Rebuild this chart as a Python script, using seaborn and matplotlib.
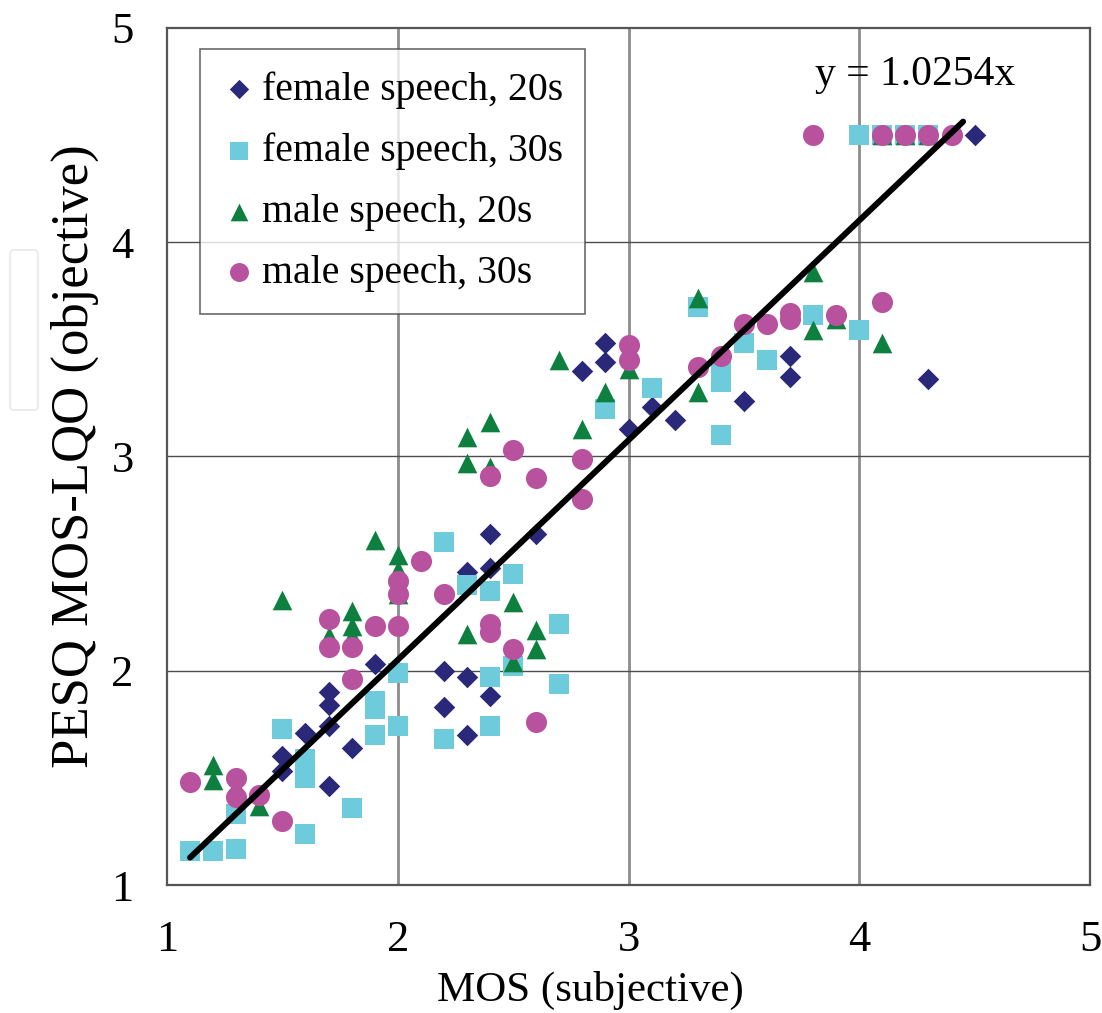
import numpy as np
import pandas as pd
import matplotlib
matplotlib.use("Agg")
import matplotlib.pyplot as plt
from matplotlib.patches import FancyBboxPatch
import seaborn as sns

# ---------------- data ----------------
f20_x = [1.5, 1.5, 1.6, 1.7, 1.7, 1.7, 1.7, 1.8, 1.9, 2.1, 2.2, 2.2, 2.3, 2.3, 2.3,
         2.4, 2.4, 2.4, 2.6, 2.8, 2.9, 2.9, 3.0, 3.1, 3.2, 3.5, 3.7, 3.7, 4.3, 4.5]
f20_y = [1.60, 1.53, 1.71, 1.90, 1.84, 1.74, 1.46, 1.64, 2.03, 2.51, 2.00, 1.83, 1.97, 1.70, 2.46,
         2.64, 2.48, 1.88, 2.64, 3.40, 3.53, 3.44, 3.13, 3.23, 3.17, 3.26, 3.47, 3.37, 3.36, 4.50]

f30_x = [1.1, 1.2, 1.3, 1.3, 1.5, 1.6, 1.6, 1.6, 1.6, 1.8, 1.9, 1.9, 1.9, 2.0, 2.0,
         2.2, 2.2, 2.3, 2.4, 2.4, 2.4, 2.5, 2.5, 2.7, 2.7, 2.9, 3.1, 3.3, 3.4, 3.4,
         3.4, 3.4, 3.5, 3.6, 3.8, 4.0, 4.0, 4.1, 4.2, 4.3]
f30_y = [1.16, 1.16, 1.17, 1.33, 1.73, 1.24, 1.50, 1.55, 1.59, 1.36, 1.70, 1.82, 1.86, 1.74, 1.99,
         1.68, 2.60, 2.40, 2.37, 1.97, 1.74, 2.45, 2.02, 2.22, 1.94, 3.22, 3.32, 3.70, 3.35, 3.38,
         3.42, 3.10, 3.53, 3.45, 3.66, 3.59, 4.50, 4.50, 4.50, 4.50]

m20_x = [1.2, 1.2, 1.3, 1.4, 1.5, 1.7, 1.8, 1.8, 1.8, 1.9, 2.0, 2.0, 2.0, 2.3, 2.3,
         2.3, 2.4, 2.4, 2.5, 2.5, 2.6, 2.6, 2.7, 2.8, 2.9, 3.0, 3.3, 3.3, 3.8, 3.8,
         3.9, 4.1, 4.1, 4.2, 4.3]
m20_y = [1.56, 1.49, 1.46, 1.37, 2.33, 2.16, 2.28, 2.21, 2.16, 2.61, 2.54, 2.47, 2.36, 3.09, 2.97,
         2.17, 3.16, 2.95, 2.32, 2.04, 2.19, 2.10, 3.45, 3.13, 3.30, 3.41, 3.74, 3.30, 3.86, 3.59,
         3.64, 3.53, 4.50, 4.50, 4.50]

m30_x = [1.1, 1.3, 1.3, 1.4, 1.5, 1.7, 1.7, 1.8, 1.8, 1.9, 2.0, 2.0, 2.0, 2.1, 2.2,
         2.4, 2.4, 2.4, 2.5, 2.5, 2.6, 2.6, 2.8, 2.8, 3.0, 3.0, 3.3, 3.4, 3.5, 3.6,
         3.7, 3.7, 3.9, 4.1, 3.8, 4.1, 4.2, 4.3, 4.4]
m30_y = [1.48, 1.50, 1.41, 1.42, 1.30, 2.24, 2.11, 2.11, 1.96, 2.21, 2.21, 2.42, 2.36, 2.51, 2.36,
         2.91, 2.22, 2.18, 3.03, 2.10, 2.90, 1.76, 2.99, 2.80, 3.52, 3.45, 3.42, 3.47, 3.62, 3.62,
         3.67, 3.64, 3.66, 3.72, 4.50, 4.50, 4.50, 4.50, 4.50]

series_names = ["female speech, 20s", "female speech, 30s", "male speech, 20s", "male speech, 30s"]
series_colors = ["#2a2878", "#6dcbdb", "#0d7f3f", "#b8519e"]
series_markers = ["D", "s", "^", "o"]
series_sizes = [120, 190, 200, 230]

slope = 1.0254
trend_x = [1.1, 4.45]
x_ticks = [1, 2, 3, 4, 5]
y_ticks = [1, 2, 3, 4, 5]
x_label = "MOS (subjective)"
y_label = "PESQ MOS-LQO (objective)"
eq_label = "y = 1.0254x"

# ---------------- plot ----------------
sns.set_theme(style="white")
plt.rcParams["font.family"] = ["Liberation Serif", "DejaVu Serif"]
plt.rcParams["text.color"] = "black"
plt.rcParams["axes.labelcolor"] = "black"
plt.rcParams["xtick.color"] = "black"
plt.rcParams["ytick.color"] = "black"

fig = plt.figure(figsize=(11.02, 10.13), dpi=100)
ax = fig.add_axes([167 / 1102, 1 - 885 / 1013, 923 / 1102, 857 / 1013])

data = [(f20_x, f20_y), (f30_x, f30_y), (m20_x, m20_y), (m30_x, m30_y)]
for (xs, ys), name, col, mk, sz in zip(data, series_names, series_colors, series_markers, series_sizes):
    df = pd.DataFrame({"x": xs, "y": ys})
    sns.scatterplot(data=df, x="x", y="y", ax=ax, color=col, marker=mk, s=sz,
                    linewidth=0, label=name, zorder=3)

tx = np.array(trend_x)
line_df = pd.DataFrame({"x": tx, "y": slope * tx})
sns.lineplot(data=line_df, x="x", y="y", ax=ax, color="black", linewidth=4.3,
             solid_capstyle="round", zorder=4, legend=False)

ax.set_xlim(1, 5)
ax.set_ylim(1, 5)
ax.set_xticks(x_ticks)
ax.set_yticks(y_ticks)
ax.set_xticklabels([str(t) for t in x_ticks], fontsize=32, color="black")
ax.set_yticklabels([str(t) for t in y_ticks], fontsize=32, color="black")
ax.tick_params(axis="x", length=0, pad=25)
ax.tick_params(axis="y", length=0, pad=24)

for v in x_ticks[1:-1]:
    ax.axvline(v, color="#8c8c8c", linewidth=2.0, zorder=1)
for v in y_ticks[1:-1]:
    ax.axhline(v, color="#4d4d4d", linewidth=1.0, zorder=1)

for s in ax.spines.values():
    s.set_color("#555555")
    s.set_linewidth(1.6)

ax.set_xlabel(x_label, fontsize=31, color="black")
ax.set_ylabel(y_label, fontsize=38, color="black")
ax.xaxis.set_label_coords(0.459, -0.100)
ax.yaxis.set_label_coords(-0.074, 0.5)

ax.text(4.24, 4.78, eq_label, fontsize=30, ha="center", va="center", color="black")

leg = ax.legend(loc="upper left", bbox_to_anchor=(0.0358, 0.975), borderaxespad=0,
                fontsize=28.6, frameon=True, fancybox=False, handlelength=0.85,
                handletextpad=0.15, borderpad=0.55, labelspacing=0.6, markerscale=0.9)
leg.get_frame().set_edgecolor("#444444")
leg.get_frame().set_linewidth(1.2)
for t in leg.get_texts():
    t.set_color("black")

# faint artifact box at the left edge
fig.patches.append(FancyBboxPatch((10 / 1102, 1 - 410 / 1013), 28 / 1102, 160 / 1013,
                                  boxstyle="round,pad=0,rounding_size=0.004",
                                  transform=fig.transFigure, facecolor="none",
                                  edgecolor="#ececec", linewidth=1.5))

fig.savefig("out.png", dpi=100)
